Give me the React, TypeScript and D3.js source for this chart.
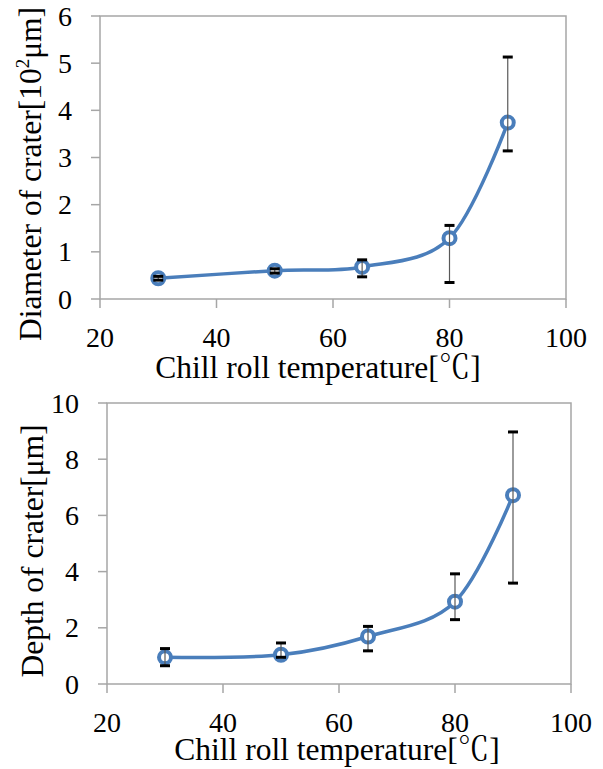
import React from 'react';
import * as d3 from 'd3';

// chill roll temperature [°C]
const temps = [30, 50, 65, 80, 90];

// diameter of crater [10^2 um]
const diameter = [0.44, 0.6, 0.68, 1.29, 3.74];
const diameterLow = [0.4, 0.55, 0.47, 0.35, 3.14];
const diameterHigh = [0.48, 0.64, 0.83, 1.56, 5.13];

// depth of crater [um]
const depth = [0.95, 1.04, 1.69, 2.93, 6.72];
const depthLow = [0.65, 0.95, 1.18, 2.29, 3.59];
const depthHigh = [1.26, 1.46, 2.05, 3.92, 8.97];

const xTicks = [20, 40, 60, 80, 100];
const diameterTicks = [0, 1, 2, 3, 4, 5, 6];
const depthTicks = [0, 2, 4, 6, 8, 10];

const FONT = "'Liberation Serif', monospace";
const DEG_FONT = "'Noto Serif CJK JP', monospace";
const LINE = '#4a7ebb';
const AXIS = '#a6a6a6';

type PanelProps = {
    top: number;
    left: number;
    right: number;
    bottom: number;
    yMax: number;
    yTicks: number[];
    values: number[];
    low: number[];
    high: number[];
    yTitle: React.ReactNode;
    yTitleX: number;
    yTitleY: number;
    xTitleX: number;
    xTitleY: number;
};

function Panel(p: PanelProps) {
    const x = d3.scaleLinear().domain([20, 100]).range([p.left, p.right]);
    const y = d3.scaleLinear().domain([0, p.yMax]).range([p.bottom, p.top]);
    const line = d3
        .line<number>()
        .x((_, i) => x(temps[i]))
        .y((d) => y(d))
        .curve(d3.curveCardinal.tension(0));
    const tick = 9;

    return (
        <g>
            {/* frame */}
            <path
                d={`M${p.left},${p.bottom}V${p.top}H${p.right}V${p.bottom}Z`}
                fill="none"
                stroke={AXIS}
                strokeWidth={1.5}
            />
            {/* x ticks */}
            {xTicks.map((t) => (
                <g key={'x' + t}>
                    <line x1={x(t)} x2={x(t)} y1={p.bottom} y2={p.bottom + tick} stroke={AXIS} strokeWidth={1.5} />
                    <text x={x(t)} y={p.bottom + 48} textAnchor="middle" style={{ fontFamily: FONT, fontSize: 28 }}>
                        {t}
                    </text>
                </g>
            ))}
            {/* y ticks */}
            {p.yTicks.map((t) => (
                <g key={'y' + t}>
                    <line x1={p.left - tick} x2={p.left} y1={y(t)} y2={y(t)} stroke={AXIS} strokeWidth={1.5} />
                    <text
                        x={p.left - 28}
                        y={y(t)}
                        dy="0.34em"
                        textAnchor="end"
                        style={{ fontFamily: FONT, fontSize: 28 }}
                    >
                        {t}
                    </text>
                </g>
            ))}
            {/* smoothed series */}
            <path d={line(p.values) || ''} fill="none" stroke={LINE} strokeWidth={3.5} />
            {p.values.map((v, i) => (
                <circle key={'m' + i} cx={x(temps[i])} cy={y(v)} r={6} fill="#fff" stroke={LINE} strokeWidth={4} />
            ))}
            {/* error bars */}
            {temps.map((t, i) => (
                <g key={'e' + i}>
                    <line x1={x(t)} x2={x(t)} y1={y(p.low[i])} y2={y(p.high[i])} stroke="#595959" strokeWidth={1.2} />
                    <line x1={x(t) - 5} x2={x(t) + 5} y1={y(p.low[i])} y2={y(p.low[i])} stroke="#000" strokeWidth={3} />
                    <line x1={x(t) - 5} x2={x(t) + 5} y1={y(p.high[i])} y2={y(p.high[i])} stroke="#000" strokeWidth={3} />
                </g>
            ))}
            {/* axis titles */}
            <text x={p.xTitleX} y={p.xTitleY} textAnchor="middle" style={{ fontFamily: FONT, fontSize: 31.5 }}>
                Chill roll temperature[<tspan style={{ fontFamily: DEG_FONT }}>℃</tspan>]
            </text>
            <text
                transform={`translate(${p.yTitleX},${p.yTitleY}) rotate(-90)`}
                textAnchor="middle"
                style={{ fontFamily: FONT, fontSize: 31.5 }}
            >
                {p.yTitle}
            </text>
        </g>
    );
}

export default function App() {
    return (
        <svg width={603} height={769} style={{ position: 'absolute', left: 0, top: 0, background: '#fff' }}>
            <Panel
                top={16}
                left={100}
                right={566}
                bottom={299}
                yMax={6}
                yTicks={diameterTicks}
                values={diameter}
                low={diameterLow}
                high={diameterHigh}
                yTitleX={41}
                yTitleY={174}
                xTitleX={318}
                xTitleY={378}
                yTitle={
                    <>
                        Diameter of crater[10
                        <tspan dy={-12} style={{ fontSize: 19 }}>
                            2
                        </tspan>
                        <tspan dy={12}>μm]</tspan>
                    </>
                }
            />
            <Panel
                top={403}
                left={107}
                right={571}
                bottom={684}
                yMax={10}
                yTicks={depthTicks}
                values={depth}
                low={depthLow}
                high={depthHigh}
                yTitleX={43}
                yTitleY={551}
                xTitleX={337}
                xTitleY={760}
                yTitle={<>Depth of crater[μm]</>}
            />
        </svg>
    );
}
